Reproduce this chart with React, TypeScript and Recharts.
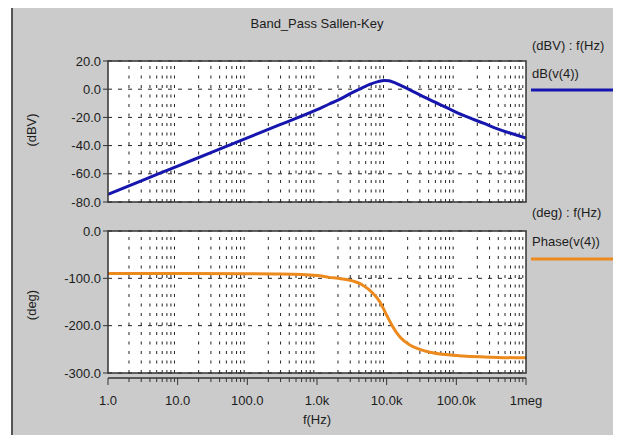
import React from 'react'
import { LineChart, Line, XAxis, YAxis, CartesianGrid, ReferenceLine } from 'recharts'

// magnitude trace dB(v(4))
const magFreq = [1, 3, 10, 30, 100, 300, 1000, 1500, 2000, 3000, 4000, 5700, 7500, 9300, 10800, 13000, 17000, 25000, 42000, 70000, 124000, 250000, 381000, 1000000]
const magDb = [-74.5, -65, -54.5, -45, -34.5, -25, -14.5, -10.5, -7.8, -3.2, -0.2, 3.4, 5.4, 6.2, 6.0, 4.6, 2, -2.1, -7.6, -12.7, -18.4, -24.3, -27.9, -34.6]

// phase trace Phase(v(4))
const phaseFreq = [1, 10, 100, 300, 1000, 1500, 2000, 3000, 4500, 6300, 8000, 10000, 12000, 15500, 21500, 30000, 42000, 70000, 124000, 250000, 400000, 1000000]
const phaseDeg = [-90, -90, -90.3, -91, -94, -98, -100, -104, -114, -131, -150, -178, -200, -224, -241, -250, -256, -261, -264, -266, -267, -268]

const decadeTicks = [1, 10, 100, 1000, 10000, 100000, 1000000]
const decadeLabels = ['1.0', '10.0', '100.0', '1.0k', '10.0k', '100.0k', '1meg']
const minorTicks = [2, 3, 4, 5, 6, 7, 8, 9, 20, 30, 40, 50, 60, 70, 80, 90, 200, 300, 400, 500, 600, 700, 800, 900,
  2000, 3000, 4000, 5000, 6000, 7000, 8000, 9000, 20000, 30000, 40000, 50000, 60000, 70000, 80000, 90000,
  200000, 300000, 400000, 500000, 600000, 700000, 800000, 900000]
const allFreqTicks = [...decadeTicks, ...minorTicks].sort((a, b) => a - b)

const dbTicks = [20, 0, -20, -40, -60, -80]
const degTicks = [0, -100, -200, -300]

const magData = magFreq.map((f, i) => ({ f, db: magDb[i] }))
const phaseData = phaseFreq.map((f, i) => ({ f, deg: phaseDeg[i] }))

const FONT = '"Liberation Sans", Arial, sans-serif'
const TEXT = '#1c1c1c'
const BLUE = '#1616ae'
const ORANGE = '#ec8a1e'

// x ticks hang below a separate axis line, 5px under the plot frame
const FreqTick = ({ x, y, payload }: any) => {
  const v = payload.value
  const idx = decadeTicks.indexOf(v)
  const major = idx >= 0
  return (
    <g>
      <line x1={x} x2={x} y1={y + 5} y2={y + (major ? 12 : 9)} stroke="#333" strokeWidth={1} />
      {major && (
        <text x={x} y={y + 32} textAnchor="middle" fontSize={13} fill={TEXT} fontFamily={FONT}>
          {decadeLabels[idx]}
        </text>
      )}
    </g>
  )
}

const yTickStyle = { fontSize: 13, fill: TEXT, fontFamily: FONT }

export default function App() {
  return (
    <div style={{ position: 'relative', width: 621, height: 443, margin: -8, overflow: 'hidden', background: '#fff' }}>
      <div style={{
        position: 'absolute', left: 11, top: 5, width: 640, height: 435,
        background: '#cbcbcb', borderTop: '2px solid #555', borderLeft: '2px solid #555', borderBottom: '2px solid #555'
      }} />

      <div style={{ position: 'absolute', left: 0, top: 0 }}>
        <LineChart width={621} height={215} data={magData} margin={{ top: 61, right: 95, bottom: 13, left: 0 }}>
          <CartesianGrid vertical={false} stroke="#222" strokeDasharray="4 6" fill="#fff" />
          <XAxis dataKey="f" type="number" scale="log" domain={[1, 1000000]} ticks={decadeTicks} hide allowDataOverflow />
          <YAxis
            type="number" domain={[-80, 20]} ticks={dbTicks} width={108} axisLine={false}
            tickSize={5} tickMargin={2} tickLine={{ stroke: '#333' }} interval={0}
            tick={yTickStyle} tickFormatter={(v: number) => v.toFixed(1)}
          />
          {minorTicks.map(t => (
            <ReferenceLine key={t} x={t} stroke="#222" strokeDasharray="3 6.5" strokeWidth={1} />
          ))}
          <Line type="monotone" dataKey="db" stroke={BLUE} strokeWidth={3} dot={false} isAnimationActive={false} />
        </LineChart>
      </div>

      <div style={{ position: 'absolute', left: 0, top: 215 }}>
        <LineChart width={621} height={228} data={phaseData} margin={{ top: 16, right: 95, bottom: 0, left: 0 }}>
          <CartesianGrid vertical={false} stroke="#222" strokeDasharray="4 6" fill="#fff" />
          <XAxis
            dataKey="f" type="number" scale="log" domain={[1, 1000000]} ticks={allFreqTicks} interval={0}
            height={70} tickSize={0} tickMargin={0} tickLine={false} axisLine={false}
            tick={<FreqTick />} allowDataOverflow
          />
          <YAxis
            type="number" domain={[-300, 0]} ticks={degTicks} width={108} axisLine={false}
            tickSize={5} tickMargin={2} tickLine={{ stroke: '#333' }} interval={0}
            tick={yTickStyle} tickFormatter={(v: number) => v.toFixed(1)}
          />
          {minorTicks.map(t => (
            <ReferenceLine key={t} x={t} stroke="#222" strokeDasharray="3 6.5" strokeWidth={1} />
          ))}
          <Line type="monotone" dataKey="deg" stroke={ORANGE} strokeWidth={3} dot={false} isAnimationActive={false} />
        </LineChart>
      </div>

      <svg width={621} height={443} style={{ position: 'absolute', left: 0, top: 0, pointerEvents: 'none' }}
        fontFamily={FONT} fill={TEXT}>
        <rect x={108} y={61} width={418} height={141} fill="none" stroke="#333" strokeWidth={1.5} />
        <rect x={108} y={231} width={418} height={142} fill="none" stroke="#333" strokeWidth={1.5} />
        <line x1={108} x2={526} y1={378} y2={378} stroke="#333" strokeWidth={1.5} />
        <text x={317} y={28} fontSize={13} textAnchor="middle">Band_Pass Sallen-Key</text>
        <text x={532} y={50} fontSize={13}>(dBV) : f(Hz)</text>
        <text x={532} y={78} fontSize={13}>dB(v(4))</text>
        <line x1={531} x2={613} y1={90} y2={90} stroke={BLUE} strokeWidth={3} />
        <text x={532} y={217} fontSize={13}>(deg) : f(Hz)</text>
        <text x={532} y={246} fontSize={13}>Phase(v(4))</text>
        <line x1={531} x2={613} y1={259} y2={259} stroke={ORANGE} strokeWidth={3} />
        <text x={0} y={0} fontSize={13} textAnchor="middle" transform="translate(36,130) rotate(-90)">(dBV)</text>
        <text x={0} y={0} fontSize={13} textAnchor="middle" transform="translate(36,305) rotate(-90)">(deg)</text>
        <text x={317} y={424} fontSize={13} textAnchor="middle">f(Hz)</text>
      </svg>
    </div>
  )
}
